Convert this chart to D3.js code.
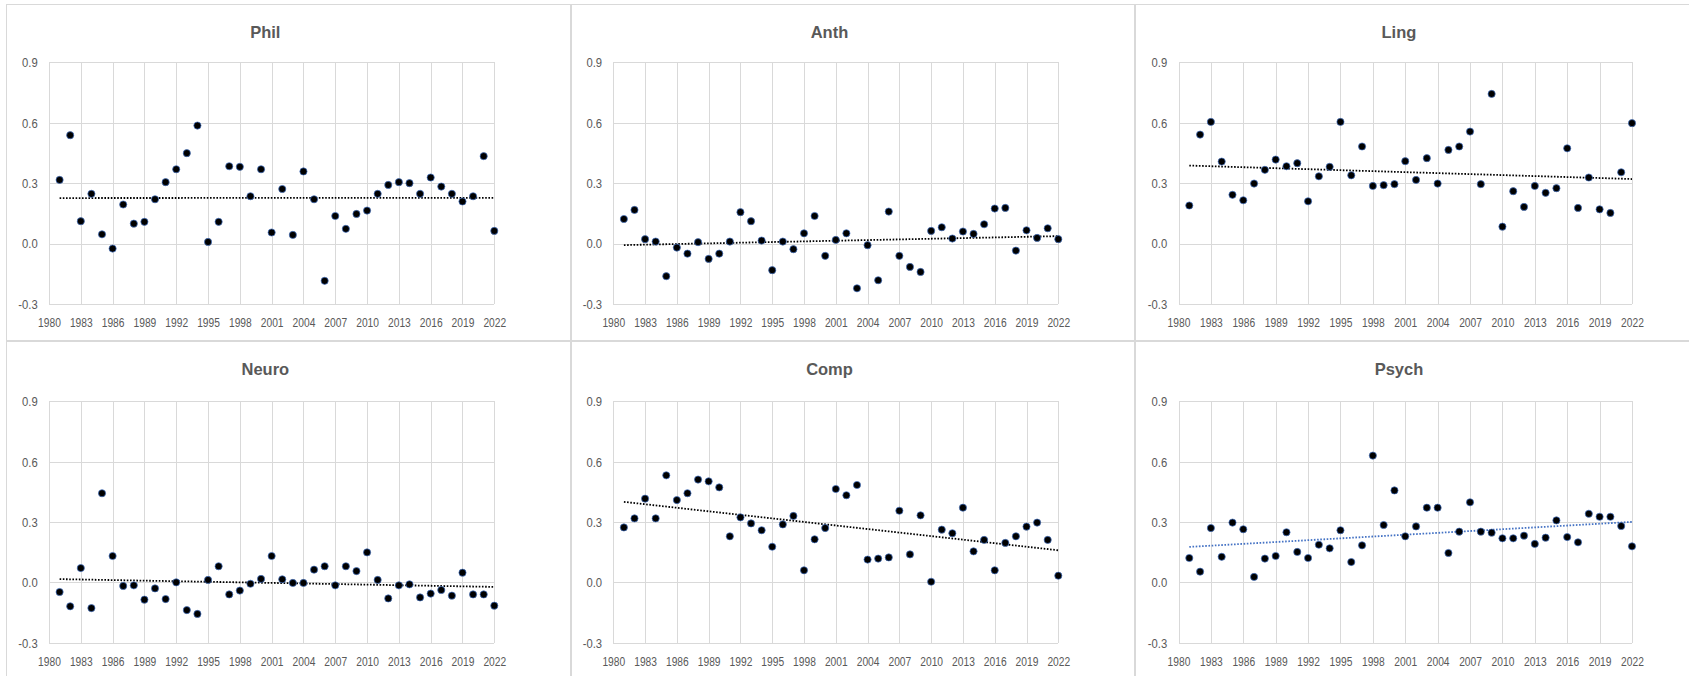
<!DOCTYPE html>
<html>
<head>
<meta charset="utf-8">
<script src="https://cdn.jsdelivr.net/npm/d3@7"></script>
<style>
  html, body { margin: 0; padding: 0; background: #ffffff; }
  svg { display: block; }
</style>
</head>
<body>
<svg id="chart" width="1689" height="676"></svg>
<script>
// Yearly values per field, 1981–2022
const years = d3.range(1981, 2023);

const phil = [0.316, 0.538, 0.111, 0.247, 0.046, -0.025, 0.194, 0.099, 0.108, 0.220,
  0.305, 0.369, 0.449, 0.586, 0.008, 0.108, 0.384, 0.381, 0.235, 0.369,
  0.055, 0.271, 0.043, 0.358, 0.220, -0.185, 0.137, 0.073, 0.147, 0.164,
  0.247, 0.291, 0.305, 0.300, 0.247, 0.328, 0.283, 0.247, 0.209, 0.235,
  0.434, 0.063];

const anth = [0.122, 0.167, 0.022, 0.010, -0.162, -0.020, -0.050, 0.007, -0.076, -0.050,
  0.010, 0.156, 0.111, 0.015, -0.132, 0.010, -0.028, 0.051, 0.137, -0.061,
  0.018, 0.051, -0.222, -0.008, -0.182, 0.159, -0.061, -0.116, -0.141, 0.063,
  0.081, 0.025, 0.060, 0.048, 0.096, 0.174, 0.177, -0.035, 0.066, 0.028,
  0.076, 0.022];

const ling = [0.189, 0.541, 0.604, 0.407, 0.242, 0.215, 0.298, 0.366, 0.417, 0.384,
  0.399, 0.210, 0.334, 0.381, 0.604, 0.339, 0.482, 0.286, 0.290, 0.295,
  0.409, 0.316, 0.424, 0.298, 0.465, 0.482, 0.556, 0.295, 0.743, 0.084,
  0.260, 0.182, 0.286, 0.252, 0.275, 0.473, 0.177, 0.328, 0.170, 0.152,
  0.354, 0.598];

const neuro = [-0.048, -0.119, 0.071, -0.128, 0.443, 0.131, -0.018, -0.015, -0.086, -0.030,
  -0.083, 0.000, -0.138, -0.157, 0.012, 0.080, -0.060, -0.041, -0.007, 0.017,
  0.131, 0.015, -0.003, -0.003, 0.063, 0.080, -0.015, 0.080, 0.056, 0.149,
  0.012, -0.080, -0.015, -0.010, -0.075, -0.056, -0.038, -0.066, 0.048, -0.060,
  -0.060, -0.116];

const comp = [0.273, 0.318, 0.416, 0.318, 0.532, 0.409, 0.443, 0.511, 0.502, 0.472,
  0.229, 0.323, 0.293, 0.259, 0.177, 0.288, 0.330, 0.060, 0.214, 0.270,
  0.464, 0.433, 0.484, 0.113, 0.118, 0.124, 0.356, 0.139, 0.333, 0.003,
  0.262, 0.244, 0.371, 0.154, 0.211, 0.060, 0.196, 0.229, 0.277, 0.297,
  0.211, 0.033];

const psych = [0.121, 0.053, 0.270, 0.127, 0.297, 0.264, 0.027, 0.118, 0.131, 0.249,
  0.151, 0.121, 0.187, 0.169, 0.259, 0.101, 0.184, 0.630, 0.285, 0.457,
  0.229, 0.278, 0.371, 0.371, 0.146, 0.252, 0.398, 0.252, 0.247, 0.219,
  0.219, 0.232, 0.191, 0.222, 0.308, 0.225, 0.199, 0.341, 0.326, 0.326,
  0.280, 0.179];

const titles = ["Phil", "Anth", "Ling", "Neuro", "Comp", "Psych"];
const seriesList = [phil, anth, ling, neuro, comp, psych];
const trendColors = ["#000000", "#000000", "#000000", "#000000", "#000000", "#4472c4"];

// Axis ticks
const xTicks = d3.range(1980, 2023, 3);
const yTicks = [-0.3, 0.0, 0.3, 0.6, 0.9];
const xDomain = [1980, 2022];
const yDomain = [-0.3, 0.9];

// Panel geometry: three columns, two rows
const cols = [
  { frameX: 6.5, frameW: 564, plotX: 49, plotW: 445.3 },
  { frameX: 571.5, frameW: 563, plotX: 613.3, plotW: 445 },
  { frameX: 1135.5, frameW: 575, plotX: 1178.5, plotW: 453.5 }
];
const rows = [
  { frameY: 4.5, frameH: 336, plotY: 62.3, plotH: 241.7, titleY: 37.5 },
  { frameY: 341.5, frameH: 340, plotY: 401.3, plotH: 241.4, titleY: 375.3 }
];

const gridColor = "#d9d9d9";
const textColor = "#595959";
const font = "'Liberation Sans', Arial, sans-serif";
// Tick labels use a slightly condensed face
const xLabelSqueeze = 0.82;
const yLabelSqueeze = 0.9;

const svg = d3.select("#chart");

// Least-squares line through (year, value)
function linearFit(xs, ys) {
  const mx = d3.mean(xs), my = d3.mean(ys);
  let sxy = 0, sxx = 0;
  xs.forEach((x, i) => { sxy += (x - mx) * (ys[i] - my); sxx += (x - mx) * (x - mx); });
  const slope = sxy / sxx;
  return x => my + slope * (x - mx);
}

seriesList.forEach((values, idx) => {
  const col = cols[idx % 3];
  const row = rows[Math.floor(idx / 3)];

  // Panel frame
  svg.append("rect")
    .attr("x", col.frameX).attr("y", row.frameY)
    .attr("width", col.frameW).attr("height", row.frameH)
    .attr("fill", "#ffffff")
    .attr("stroke", gridColor).attr("stroke-width", 1);

  const x = d3.scaleLinear().domain(xDomain).range([0, col.plotW]);
  const y = d3.scaleLinear().domain(yDomain).range([row.plotH, 0]);

  const g = svg.append("g")
    .attr("transform", `translate(${col.plotX},${row.plotY})`);

  // Vertical gridlines + year labels
  const xAxis = g.append("g")
    .attr("transform", `translate(0,${row.plotH})`)
    .call(d3.axisBottom(x).tickValues(xTicks).tickFormat(d3.format("d"))
      .tickSize(-row.plotH).tickSizeOuter(0));
  xAxis.select(".domain").remove();
  xAxis.selectAll(".tick line").attr("stroke", gridColor).attr("shape-rendering", "crispEdges");
  xAxis.selectAll(".tick text")
    .attr("x", 0).attr("y", 23.3).attr("dy", null)
    .attr("transform", `scale(${xLabelSqueeze},1)`)
    .attr("fill", textColor)
    .style("font-family", font).style("font-size", "12.5px");

  // Horizontal gridlines + value labels
  const yAxis = g.append("g")
    .call(d3.axisLeft(y).tickValues(yTicks).tickFormat(v => v.toFixed(1))
      .tickSize(-col.plotW).tickSizeOuter(0));
  yAxis.select(".domain").remove();
  yAxis.selectAll(".tick line").attr("stroke", gridColor).attr("shape-rendering", "crispEdges");
  yAxis.selectAll(".tick text")
    .attr("x", -11.3 / yLabelSqueeze)
    .attr("dy", "0.35em")
    .attr("transform", `scale(${yLabelSqueeze},1)`)
    .attr("fill", textColor)
    .style("font-family", font).style("font-size", "12.5px");

  // Linear trend line
  const fit = linearFit(years, values);
  const x0 = years[0], x1 = years[years.length - 1];
  g.append("line")
    .attr("x1", x(x0)).attr("y1", y(fit(x0)))
    .attr("x2", x(x1)).attr("y2", y(fit(x1)))
    .attr("stroke", trendColors[idx])
    .attr("stroke-width", 1.8)
    .attr("stroke-dasharray", "1.6,1.6");

  // Data points
  g.selectAll("circle")
    .data(values.map((v, i) => ({ year: years[i], value: v })))
    .join("circle")
    .attr("cx", d => x(d.year))
    .attr("cy", d => y(d.value))
    .attr("r", 3.6)
    .attr("fill", "#000000")
    .attr("stroke", "#4472c4")
    .attr("stroke-width", 0.7);

  // Panel title
  svg.append("text")
    .attr("x", col.plotX + col.plotW / 2 - 6.3)
    .attr("y", row.titleY)
    .attr("text-anchor", "middle")
    .attr("fill", textColor)
    .style("font-family", font)
    .style("font-size", "16.5px")
    .style("font-weight", "bold")
    .text(titles[idx]);
});
</script>
</body>
</html>
